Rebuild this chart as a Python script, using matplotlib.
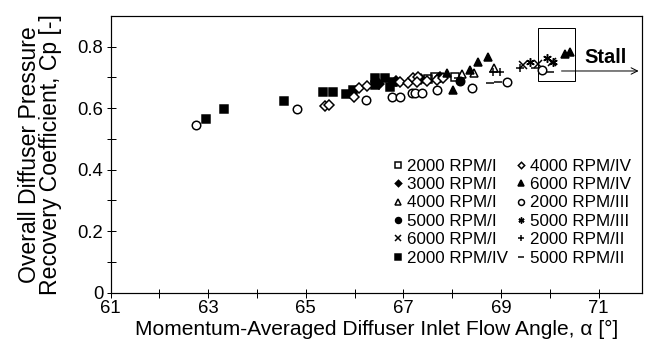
import numpy as np
import matplotlib.pyplot as plt
from matplotlib.patches import Rectangle

plt.rcParams['font.family'] = ['Liberation Sans', 'DejaVu Sans']

# ---------------------------------------------------------
# Data (flow angle [deg], Cp [-])
# ---------------------------------------------------------
rpm2000_I_x = [67.5, 67.65, 68.05]
rpm2000_I_y = [0.695, 0.70, 0.70]

rpm3000_I_x = [66.5, 66.85, 67.35, 67.75]
rpm3000_I_y = [0.68, 0.69, 0.695, 0.70]

rpm4000_I_x = [68.2, 68.45, 68.85]
rpm4000_I_y = [0.71, 0.715, 0.73]

rpm5000_I_x = [67.75, 68.15]
rpm5000_I_y = [0.70, 0.69]

rpm6000_I_x = [69.45, 69.75, 70.05]
rpm6000_I_y = [0.74, 0.745, 0.75]

rpm2000_IV_x = [62.95, 63.32, 64.55, 65.35, 65.56, 65.82, 65.97, 66.42, 66.42, 66.62, 66.72, 66.78]
rpm2000_IV_y = [0.565, 0.597, 0.623, 0.652, 0.652, 0.646, 0.659, 0.698, 0.675, 0.698, 0.669, 0.685]

rpm4000_IV_x = [65.39, 65.48, 65.99, 66.09, 66.25, 66.93, 67.09, 67.19, 67.30, 67.28, 67.48, 67.69, 67.81]
rpm4000_IV_y = [0.607, 0.610, 0.636, 0.666, 0.672, 0.685, 0.682, 0.698, 0.701, 0.685, 0.688, 0.692, 0.698]

rpm6000_IV_x = [67.89, 68.01, 68.36, 68.53, 68.73, 70.31, 70.41]
rpm6000_IV_y = [0.714, 0.659, 0.724, 0.750, 0.767, 0.777, 0.783]

rpm2000_III_x = [62.75, 64.82, 66.23, 66.76, 66.93, 67.17, 67.24, 67.38, 67.69, 68.40, 69.12, 69.84]
rpm2000_III_y = [0.545, 0.597, 0.627, 0.636, 0.636, 0.650, 0.650, 0.650, 0.659, 0.666, 0.685, 0.724]

rpm5000_III_x = [69.59, 69.94, 70.06]
rpm5000_III_y = [0.750, 0.763, 0.750]

rpm2000_II_x = [68.83, 68.98, 69.39]
rpm2000_II_y = [0.718, 0.718, 0.731]

rpm5000_II_x = [68.12, 68.77, 68.94, 69.69, 70.0]
rpm5000_II_y = [0.698, 0.682, 0.685, 0.731, 0.718]

# stall region
stall_box_x = [69.76, 70.52]
stall_box_y = [0.688, 0.861]
stall_arrow_x = [70.24, 71.82]
stall_arrow_y = 0.721

fig = plt.figure(figsize=(9, 5), dpi=72)
ax = fig.add_axes([0.1708, 0.187, 0.820, 0.7687])

k = 'black'
series = [
    (rpm2000_I_x, rpm2000_I_y, 's', 'none', '2000 RPM/I'),
    (rpm3000_I_x, rpm3000_I_y, 'D', k, '3000 RPM/I'),
    (rpm4000_I_x, rpm4000_I_y, '^', 'none', '4000 RPM/I'),
    (rpm5000_I_x, rpm5000_I_y, 'o', k, '5000 RPM/I'),
    (rpm6000_I_x, rpm6000_I_y, 'x', k, '6000 RPM/I'),
    (rpm2000_IV_x, rpm2000_IV_y, 's', k, '2000 RPM/IV'),
    (rpm4000_IV_x, rpm4000_IV_y, 'D', 'white', '4000 RPM/IV'),
    (rpm6000_IV_x, rpm6000_IV_y, '^', k, '6000 RPM/IV'),
    (rpm2000_III_x, rpm2000_III_y, 'o', 'white', '2000 RPM/III'),
    (rpm5000_III_x, rpm5000_III_y, (6, 2, 0), k, '5000 RPM/III'),
    (rpm2000_II_x, rpm2000_II_y, '+', k, '2000 RPM/II'),
    (rpm5000_II_x, rpm5000_II_y, '_', k, '5000 RPM/II'),
]

for xs, ys, m, fc, lab in series:
    size = 8.5
    if m == 'D':
        size = 6.5
    ax.plot(xs, ys, linestyle='none', marker=m, markersize=size,
            markerfacecolor=fc, markeredgecolor=k, markeredgewidth=1.5,
            label=lab)

# stall box and arrow
ax.add_patch(Rectangle((stall_box_x[0], stall_box_y[0]),
                       stall_box_x[1] - stall_box_x[0],
                       stall_box_y[1] - stall_box_y[0],
                       fill=False, edgecolor=k, linewidth=1.0, zorder=3))
ax.annotate('', xy=(stall_arrow_x[1], stall_arrow_y),
            xytext=(stall_arrow_x[0], stall_arrow_y),
            arrowprops=dict(arrowstyle='->', color=k, lw=1.0,
                            shrinkA=0, shrinkB=0, mutation_scale=16))
ax.text(70.70, 0.766, 'Stall', fontsize=20, fontweight='bold', va='center', ha='left')

ax.set_xlim(61, 71.89)
ax.set_ylim(0, 0.9)
ax.set_xticks(np.arange(61, 72, 1))
ax.set_xticklabels([str(v) if v % 2 == 1 else '' for v in range(61, 72)])
ax.set_yticks(np.arange(0, 0.9, 0.1))
ax.set_yticklabels(['0', '', '0.2', '', '0.4', '', '0.6', '', '0.8'])
ax.tick_params(direction='inout', length=9, width=1, labelsize=18.5, pad=3)
for sp in ax.spines.values():
    sp.set_linewidth(1.2)

ax.set_xlabel('Momentum-Averaged Diffuser Inlet Flow Angle, \u03b1 [\u00b0]', fontsize=21, labelpad=3)
ax.set_ylabel('Overall Diffuser Pressure\nRecovery Coefficient, Cp [-]', fontsize=23,
              linespacing=0.9, labelpad=15)

leg = ax.legend(ncol=2, loc='upper left', bbox_to_anchor=(0.51, 0.515),
                frameon=False, fontsize=17, handletextpad=0.1, borderpad=0,
                columnspacing=0.3, labelspacing=0.2, markerscale=0.7,
                handlelength=0.9)

fig.savefig('out.png', dpi=72)
